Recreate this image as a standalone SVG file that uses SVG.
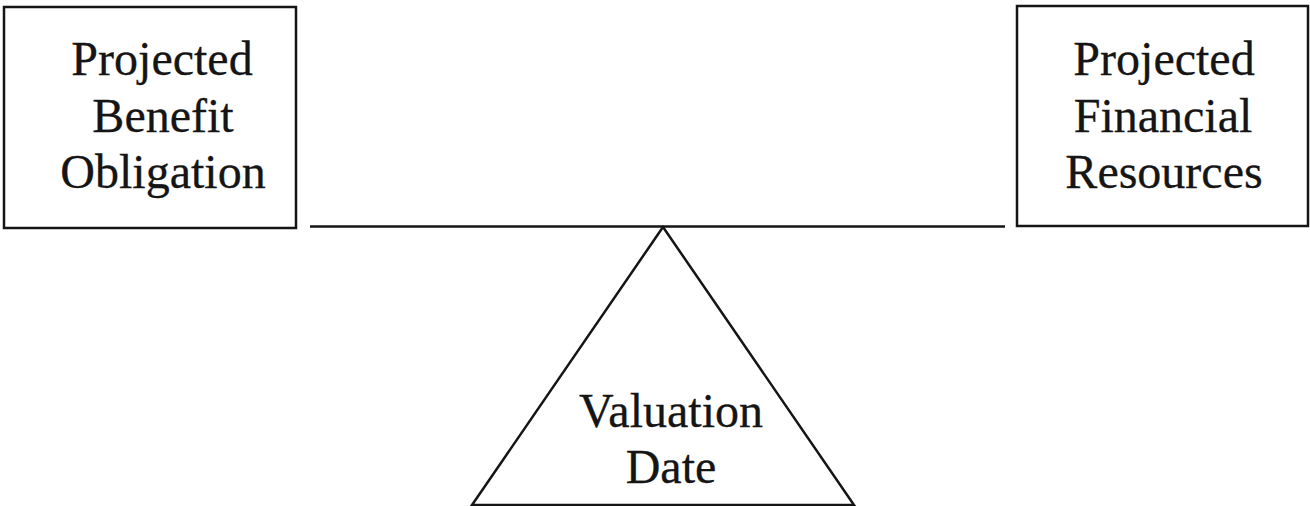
<svg xmlns="http://www.w3.org/2000/svg" width="1310" height="506" viewBox="0 0 1310 506">
<style>
.box{fill:#fff;stroke:#151515;stroke-width:2.5}
.t{font-family:"Liberation Serif","Times New Roman",serif;font-size:48px;fill:#151515;stroke:#151515;stroke-width:0.3;text-anchor:middle}
.ln{stroke:#151515;stroke-width:2.5;fill:none}
</style>
<rect width="1310" height="506" fill="#fff"/>
<g id="pbo">
<rect class="box" x="4" y="7" width="292" height="221"/>
<text class="t" x="162" y="75">Projected</text>
<text class="t" x="163" y="132">Benefit</text>
<text class="t" x="163" y="188">Obligation</text>
</g>
<g id="pfr">
<rect class="box" x="1017" y="6" width="291" height="220"/>
<text class="t" x="1164" y="75">Projected</text>
<text class="t" x="1163" y="132">Financial</text>
<text class="t" x="1164" y="188">Resources</text>
</g>
<g id="valuation">
<polygon class="box" points="663,227 472,505 854,505"/>
<text class="t" x="671" y="427">Valuation</text>
<text class="t" x="671" y="483">Date</text>
</g>
<g id="connectors">
<line class="ln" x1="310" y1="226.5" x2="1005" y2="226.5"/>
</g>
</svg>
